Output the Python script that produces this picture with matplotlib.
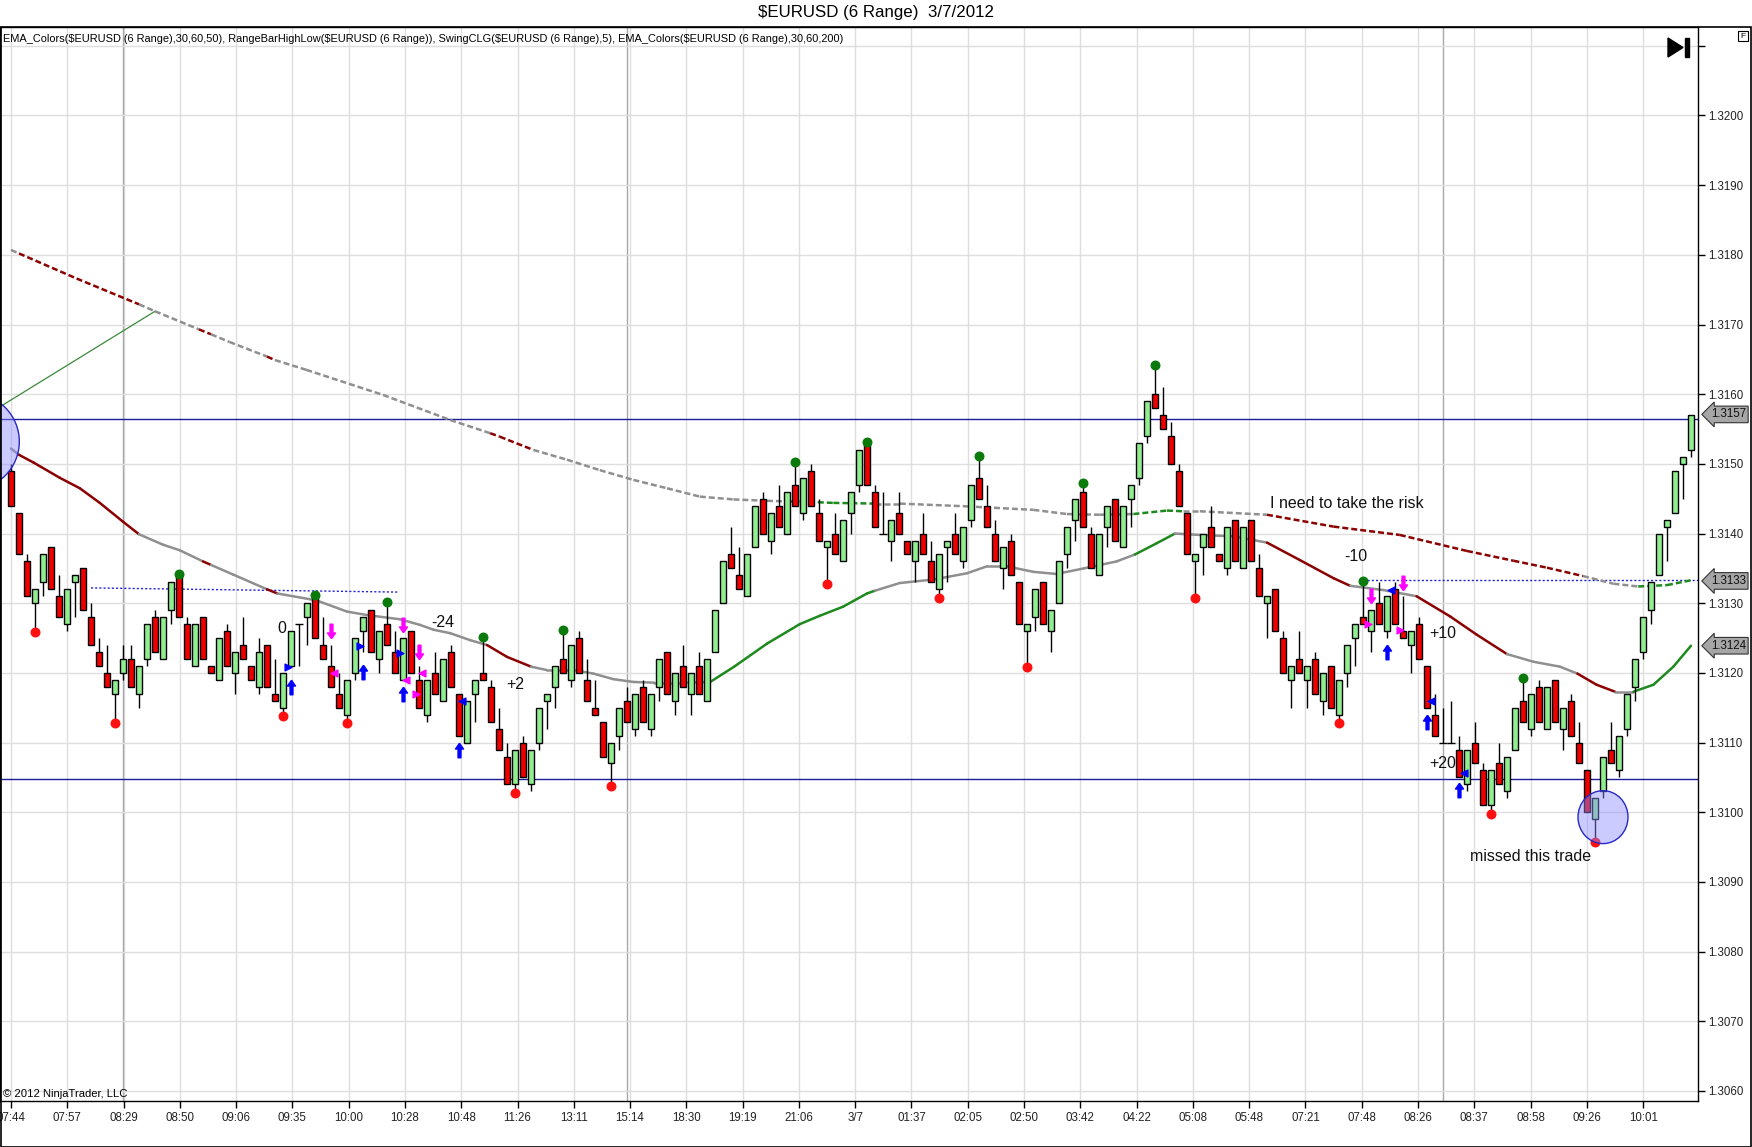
from matplotlib import pyplot as plt
from matplotlib.patches import Ellipse, Rectangle, Polygon
from matplotlib.path import Path
import numpy as np

plt.rcParams['font.family'] = ['Liberation Sans', 'DejaVu Sans']

W, H = 1752, 1147

# 6-pip range bars, values in pips above 1.3000
opens = [149,143,136,130,133,138,131,127,133,135,
         128,123,120,117,120,122,117,122,128,122,
         129,134,127,121,128,121,119,126,120,124,
         121,118,124,117,115,121,127,128,131,124,
         121,117,114,120,126,129,122,127,123,119,
         126,119,114,120,116,123,117,110,117,120,
         118,112,108,104,110,104,110,116,118,122,
         119,125,119,115,113,107,111,116,112,118,
         112,118,123,116,121,117,121,116,123,130,
         137,134,131,138,145,139,144,140,147,143,
         149,143,138,140,136,143,147,153,146,140,
         139,143,139,136,140,136,132,138,140,136,
         142,148,144,140,135,139,133,126,128,133,
         126,130,137,142,146,140,134,141,145,138,
         145,148,154,160,157,154,149,143,136,138,
         141,137,135,142,135,142,135,130,132,125,
         119,122,119,122,116,121,114,120,125,128,
         126,130,126,132,126,124,127,121,114,110,
         110,109,104,110,106,101,107,103,109,116,
         112,118,112,119,112,116,110,106,99,103,
         109,106,112,118,123,129,134,141,143,150,152]
closes = [144,137,131,132,137,132,128,132,134,129,
          124,121,118,119,122,118,121,127,123,128,
          133,128,122,127,122,120,125,121,123,122,
          119,123,118,116,120,126,127,130,125,122,
          118,115,119,125,128,123,126,124,120,125,
          120,115,119,117,122,118,111,116,119,119,
          113,109,104,109,105,109,115,117,121,120,
          124,120,116,114,108,110,115,113,117,113,
          117,122,117,120,118,120,117,122,129,136,
          135,132,137,144,140,143,141,146,144,148,
          144,139,139,137,142,146,152,147,141,140,
          142,140,137,139,137,133,137,139,137,141,
          147,145,141,136,138,134,127,127,132,127,
          129,136,141,145,141,135,140,144,139,144,
          147,153,159,158,155,150,144,137,137,140,
          138,136,141,136,141,136,131,131,126,120,
          121,120,121,117,120,115,119,124,127,127,
          129,127,131,127,125,126,122,115,111,110,
          110,105,109,107,101,106,104,108,115,113,
          117,113,118,113,115,111,107,100,102,108,
          107,111,117,122,128,133,140,142,149,151,157]
highs = [150,143,137,132,137,138,134,132,134,135,
         130,125,124,119,124,124,121,127,129,128,
         133,134,128,127,128,121,125,127,123,128,
         121,125,124,122,120,126,127,130,131,128,
         124,120,119,125,128,129,126,130,126,125,
         126,121,119,123,122,124,117,116,119,125,
         119,115,110,109,111,109,115,117,121,126,
         124,126,122,119,113,110,115,118,117,119,
         117,122,123,120,124,120,123,122,129,136,
         141,138,137,144,146,143,147,146,150,148,
         150,145,139,143,142,146,152,153,147,146,
         142,146,139,139,143,139,137,139,143,141,
         147,151,147,142,138,140,133,127,132,133,
         129,136,141,145,147,141,140,144,145,144,
         147,153,159,164,161,156,150,143,137,140,
         144,137,141,142,141,142,137,131,132,126,
         121,126,121,123,120,121,119,124,127,133,
         129,133,131,133,131,126,128,121,117,115,
         116,111,109,113,107,106,110,108,115,119,
         117,119,118,119,115,117,113,106,102,108,
         113,111,117,122,128,133,140,142,149,151,157]
lows = [144,137,131,126,131,132,128,126,128,129,
        124,121,118,113,119,118,115,121,123,122,
        127,128,122,121,122,120,119,121,117,122,
        119,117,118,116,114,121,121,124,125,122,
        118,115,113,119,123,123,120,124,120,119,
        120,115,113,117,116,118,111,110,113,119,
        113,109,104,103,105,103,109,112,115,120,
        118,120,116,114,108,104,109,113,111,113,
        111,116,117,114,118,114,117,116,123,130,
        135,132,131,138,140,137,141,140,144,142,
        144,139,133,137,136,140,146,147,141,140,
        136,140,137,133,137,133,131,133,137,135,
        141,145,141,136,132,134,127,121,126,127,
        123,130,135,139,141,135,134,138,139,138,
        141,147,153,158,155,150,144,137,131,134,
        138,136,134,136,135,136,131,125,126,120,
        115,120,115,117,114,115,113,118,121,127,
        123,127,125,127,125,120,122,115,111,110,
        110,105,103,107,101,100,104,102,109,113,
        111,113,112,113,109,111,107,100,96,102,
        107,105,111,116,122,127,134,136,143,145,151]

time_labels = ["07:44", "07:57", "08:29", "08:50", "09:06", "09:35", "10:00", "10:28",
               "10:48", "11:26", "13:11", "15:14", "18:30", "19:19", "21:06", "3/7",
               "01:37", "02:05", "02:50", "03:42", "04:22", "05:08", "05:48", "07:21",
               "07:48", "08:26", "08:37", "08:58", "09:26", "10:01"]

swing_high_bars = [21, 38, 47, 59, 69, 98, 107, 121, 134, 143, 169, 189]
swing_low_bars = [3, 13, 34, 42, 63, 75, 102, 116, 127, 148, 166, 185, 198]

# EMA 50 (solid): bar, pips, colour of following segment
ema50_x = [0, 1, 2.8, 6.1, 8.6, 11.1, 14.0, 16, 19.0, 21.1, 24.0, 25.0, 27.8, 32, 33.3,
           38.2, 42, 44.5, 48.6, 51.1, 52.8, 54.9, 57.4, 59.5, 62, 65, 67, 70.3, 72.8,
           75.3, 77.8, 80.4, 84.1, 87.4, 90.4, 94.5, 98.6, 101.1, 104, 107, 108, 111.1,
           115.3, 119.5, 122, 124.5, 127.8, 130.7, 134.1, 138.2, 140.5, 143.2, 145.5,
           148.6, 152.8, 157, 161.1, 165.3, 167.4, 171.5, 175.7, 179.9, 183.2, 187,
           190.3, 193.6, 195.8, 198.2, 200.5, 202.8, 205.3, 207.8, 210]
ema50_y = [152.2, 151.3, 150.2, 148.0, 146.5, 144.4, 141.7, 139.9, 138.4, 137.6, 136.0,
           135.5, 134.1, 132.0, 131.4, 130.4, 128.8, 128.3, 127.7, 126.9, 126.2, 125.7,
           124.7, 124.0, 122.3, 120.9, 120.4, 120.4, 119.9, 119.1, 118.7, 118.6, 118.6,
           118.7, 120.9, 124.2, 127.0, 128.2, 129.5, 131.4, 131.8, 132.9, 133.4, 134.3,
           135.3, 135.3, 134.5, 134.2, 135.0, 136.0, 137.0, 138.6, 140.0, 139.8, 139.6,
           138.7, 136.2, 133.6, 132.5, 131.9, 131.0, 128.1, 125.5, 122.7, 121.6, 120.9,
           119.9, 118.3, 117.3, 117.3, 118.3, 120.9, 123.9]
ema50_c = ("g" + "r" * 6 + "g" * 3 + "r" + "gg" + "r" + "g" * 9 + "rr" + "g" * 8 + "G" * 7
           + "g" * 10 + "GG" + "ggg" + "rrr" + "gg" + "rrr" + "ggg" + "rr" + "g" + "GGG")

# EMA 200 (dashed)
ema200_x = [0, 1, 8.2, 16, 18, 23.5, 25, 27.3, 32, 33, 36.9, 46.5, 54.9, 59.9, 61.1, 65.3,
            69.5, 73.6, 77.8, 82, 86.1, 90.3, 94.5, 97.4, 98.6, 102.8, 108, 111.1, 119.5,
            127.8, 132, 136.1, 140.3, 144.5, 146.5, 148.6, 157, 165.3, 173.6, 182, 187.8,
            192, 196.5, 200.3, 203.4, 207, 210]
ema200_y = [180.7, 180.2, 176.6, 172.9, 171.9, 169.3, 168.6, 167.5, 165.4, 164.9, 163.5,
            159.9, 156.3, 154.4, 153.9, 152.0, 150.6, 149.1, 147.7, 146.5, 145.3, 144.9,
            144.7, 144.6, 144.6, 144.4, 144.3, 144.3, 143.9, 143.4, 142.8, 142.7, 142.8,
            143.3, 143.2, 143.2, 142.7, 141.0, 139.8, 137.5, 136.1, 135.1, 133.9, 132.8,
            132.4, 132.6, 133.3]
ema200_c = ("grrggrggrggggrrg" + "g" * 7 + "GGG" + "g" * 6 + "GG" + "gg" + "r" * 6
            + "gg" + "GG")

blue_up = [(35, 118), (44, 120.1), (49, 117), (56, 109), (172, 123), (177, 113), (181, 103.2)]
magenta_down = [(40, 126), (49, 126.9), (51, 123), (170, 131), (174, 132.9)]
blue_tri = [(34.6, 120.9, '>'), (43.6, 123.8, '>'), (48.6, 122.9, '>'), (56.4, 115.9, '<'),
            (172.5, 131.9, '<'), (177.5, 116.0, '<'), (181.6, 105.6, '<')]
magenta_tri = [(40.4, 120.0, '<'), (49.4, 119.0, '<'), (51.4, 120.0, '<'), (50.6, 117.0, '>'),
               (169.6, 127.0, '>'), (173.6, 126.1, '>')]

notes = [(33.8, 126.4, "0"), (54.0, 127.2, "-24"), (63.0, 118.4, "+2"),
         (167.0, 144.3, "I need to take the risk"), (168.1, 136.7, "-10"),
         (179.0, 125.6, "+10"), (179.0, 107.0, "+20"), (190.0, 93.6, "missed this trade")]

axis_marks = [157.1, 133.2, 123.9]


def px(p):
    return 1.3 + np.asarray(p, dtype=float) / 10000.0


fig = plt.figure(figsize=(W / 100, H / 100), dpi=100)
ax = fig.add_axes([0, 1 - 1101 / H, 1698 / W, (1101 - 27) / H])
ax.set_xlim(-1.375, 210.875)
ax.set_ylim(px(58.56), px(212.7))

# grid
tick_pos = np.arange(len(time_labels)) * 7.035
for t in tick_pos:
    ax.axvline(t, color='#dedede', lw=1, zorder=0)
for t in [14.06, 77.0, 179.0]:
    ax.axvline(t, color='#a8a8a8', lw=1, zorder=0)
for y in np.arange(1.3060, 1.32101, 0.001):
    ax.axhline(y, color='#dedede', lw=1, zorder=0)

# horizontal lines
ax.axhline(px(156.4), color='#1c1c9c', lw=1, zorder=1)
ax.axhline(px(104.8), color='#1c1c9c', lw=1, zorder=1)
ax.plot([10, 48.4], px([132.2, 131.6]), ls=(0, (1.5, 1.5)), color='#2020e0', lw=1, zorder=1)
ax.plot([169, 210.875], px([133.3, 133.3]), ls=(0, (1.5, 1.5)), color='#2020e0', lw=1, zorder=1)

# trend line
ax.plot([-1.375, 18.0], px([158.2, 171.9]), color='#3a8a3a', lw=0.9, zorder=2)

colmap = {'r': '#8b0000', 'g': '#8f8f8f', 'G': '#1e8a1e'}
for i in range(len(ema50_x) - 1):
    ax.plot(ema50_x[i:i + 2], px(ema50_y[i:i + 2]), color=colmap[ema50_c[i]], lw=1.8,
            solid_capstyle='round', zorder=2)
for i in range(len(ema200_x) - 1):
    ax.plot(ema200_x[i:i + 2], px(ema200_y[i:i + 2]), color=colmap[ema200_c[i]], lw=1.8,
            ls=(0, (2.4, 1.2)), zorder=2)

# candles
x = np.arange(len(opens))
o = np.array(opens)
c = np.array(closes)
ax.vlines(x, px(lows), px(highs), color='black', lw=1, zorder=3)
up = c > o
dn = c < o
ax.bar(x[up], (c[up] - o[up]) / 10000.0, bottom=px(o[up]), width=0.74,
       color='#90ee90', edgecolor='black', lw=1, zorder=4)
ax.bar(x[dn], (o[dn] - c[dn]) / 10000.0, bottom=px(c[dn]), width=0.74,
       color='#ee0000', edgecolor='black', lw=1, zorder=4)
dj = c == o
ax.hlines(px(o[dj]), x[dj] - 0.5, x[dj] + 0.5, color='black', lw=1, zorder=4)

# swing dots
hb = np.array(swing_high_bars)
lb = np.array(swing_low_bars)
ax.scatter(hb, px(np.array(highs)[hb] + 0.2), s=38, color='#0a7a0a', zorder=5)
ax.scatter(lb, px(np.array(lows)[lb] - 0.2), s=38, color='#ff1010', zorder=5)

# trade arrows
arrow_up = Path([(0, 1), (0.55, 0.2), (0.2, 0.2), (0.2, -1), (-0.2, -1), (-0.2, 0.2),
                 (-0.55, 0.2), (0, 1)])
arrow_dn = Path([(vx, -vy) for vx, vy in arrow_up.vertices])
ax.scatter([b[0] for b in blue_up], px([b[1] for b in blue_up]), marker=arrow_up,
           s=110, color='#0000ff', zorder=6)
ax.scatter([b[0] for b in magenta_down], px([b[1] for b in magenta_down]), marker=arrow_dn,
           s=110, color='#ff00ff', zorder=6)
for bx, by, m in blue_tri:
    ax.scatter(bx, px(by), marker=m, s=24, color='#0000ff', zorder=6)
for bx, by, m in magenta_tri:
    ax.scatter(bx, px(by), marker=m, s=24, color='#ff00ff', zorder=6)

# circles
ax.add_patch(Ellipse((-4.96, px(153.2)), 12.0, 13.8 / 10000.0, fc=(0.55, 0.55, 1.0, 0.45),
                     ec='#2828c8', lw=1, zorder=7))
ax.add_patch(Ellipse((199.0, px(99.3)), 6.25, 7.6 / 10000.0, fc=(0.55, 0.55, 1.0, 0.45),
                     ec='#2828c8', lw=1, zorder=7))

for nx, ny, s in notes:
    ax.text(nx, px(ny), s, fontsize=11.5, ha='center', va='center', color='#111111', zorder=8)

# axes styling
for sp in ax.spines.values():
    sp.set_color('black')
    sp.set_linewidth(1)
ax.yaxis.tick_right()
yt = np.round(np.arange(1.3060, 1.32101, 0.001), 4)
ax.set_yticks(yt)
ax.set_yticklabels(["%.4f" % v if v < 1.3205 else "" for v in yt])
ax.set_xticks(tick_pos)
ax.set_xticklabels(time_labels)
ax.tick_params(axis='both', labelsize=8.3, length=5, width=1, color='black',
               labelcolor='#222222', direction='out')
ax.tick_params(axis='y', pad=2)
ax.tick_params(axis='x', pad=3)

for v in axis_marks:
    ax.text(1.0075, px(v), "%.4f" % (1.3 + v / 10000.0), transform=ax.get_yaxis_transform(),
            fontsize=8.3, ha='left', va='center', color='#111111', clip_on=False, zorder=9,
            bbox=dict(boxstyle='larrow,pad=0.2', fc='#a6a6a6', ec='#333333', lw=0.8))

# figure texts
fig.text(0.5, 1 - 13 / H, r"\$EURUSD (6 Range)  3/7/2012", ha='center', va='center', fontsize=12.2)
fig.text(3 / W, 1 - 39 / H,
         r"EMA_Colors(\$EURUSD (6 Range),30,60,50), RangeBarHighLow(\$EURUSD (6 Range)), "
         r"SwingCLG(\$EURUSD (6 Range),5), EMA_Colors(\$EURUSD (6 Range),30,60,200)",
         ha='left', va='center', fontsize=7.95)
fig.text(3 / W, 1 - 1094 / H, "\u00a9 2012 NinjaTrader, LLC", ha='left', va='center', fontsize=8.1)

# outer frame and corner icons
fig.add_artist(Rectangle((0.5 / W, 0.5 / H), 1 - 1.5 / W, 1 - 27.5 / H, transform=fig.transFigure,
                         fill=False, ec='black', lw=1.2))
fig.add_artist(Polygon([(1668 / W, 1 - 38 / H), (1668 / W, 1 - 57 / H), (1683 / W, 1 - 47.5 / H)],
                       closed=True, transform=fig.transFigure, fc='black', ec='black'))
fig.add_artist(Rectangle((1685 / W, 1 - 57 / H), 3.5 / W, 19 / H, transform=fig.transFigure,
                         fc='black', ec='black'))
fig.add_artist(Rectangle((1738 / W, 1 - 41 / H), 10 / W, 10 / H, transform=fig.transFigure,
                         fill=False, ec='black', lw=0.8))
fig.text(1743 / W, 1 - 36 / H, "F", ha='center', va='center', fontsize=6)

fig.savefig("out.png", dpi=100, facecolor='white')
